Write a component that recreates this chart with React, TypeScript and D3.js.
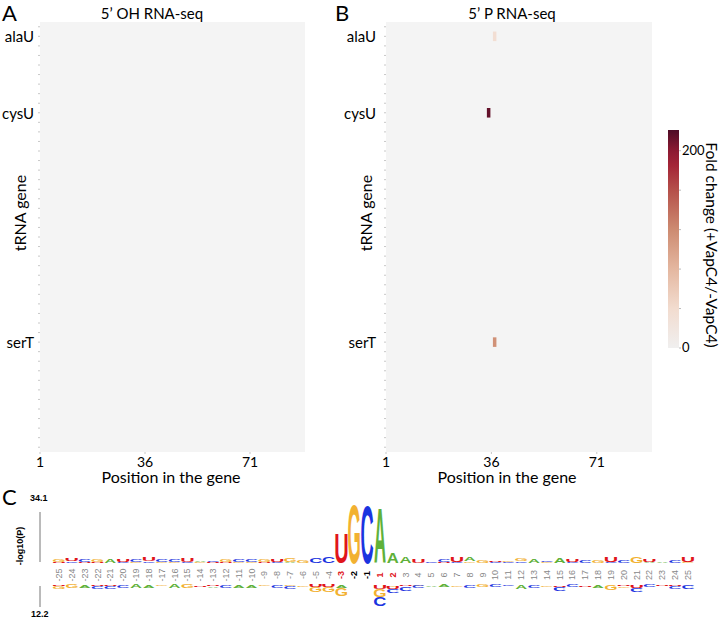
import React from "react";
import * as d3 from "d3";

const W = 720;
const H = 619;

// ---------- heatmap data ----------
const nRows = 45;
const nPositions = 89.33;
const xTickValues = [1, 36, 71];
const labeledGenes = ["alaU", "cysU", "serT"];
const labeledRows = [1, 9, 33];
const cellGenes = ["alaU", "cysU", "serT"];
const cellPositions = [37, 35, 37];
const cellValues = [35, 214, 115];
const colorbarMax = 221;
const colorbarTicks = [0, 200];
const colorbarMinorTicks = [40, 80, 120, 160];
const colorStops = [0, 40, 80, 120, 160, 185, 200, 221];
const colorStopColors = ["#f0efef", "#f2dccf", "#e4b7a0", "#cd8b71", "#b5504a", "#a42537", "#8c1a32", "#4e0c26"];

// ---------- logo data ----------
const logoPositions = [-25, -24, -23, -22, -21, -20, -19, -18, -17, -16, -15, -14, -13, -12, -11, -10, -9, -8, -7, -6, -5, -4, -3, -2, -1,
  1, 2, 3, 4, 5, 6, 7, 8, 9, 10, 11, 12, 13, 14, 15, 16, 17, 18, 19, 20, 21, 22, 23, 24, 25];
type L = [string, number];
const logoTop: L[][] = [
  [["U", 0.5], ["G", 1.6]], [["C", 0.9], ["U", 1.1]], [["U", 0.6], ["C", 1.4]], [["U", 0.5], ["G", 1.7]], [["A", 1.9]],
  [["C", 0.8], ["U", 1.2]], [["G", 0.8], ["C", 1.5]], [["C", 1.0], ["U", 2.3]], [["G", 0.5], ["C", 1.5]], [["G", 0.6], ["C", 1.4]],
  [["C", 0.8], ["U", 2.4]], [["G", 0.4], ["A", 1.0]], [["U", 0.5], ["C", 0.9]], [["U", 0.6], ["G", 1.1]], [["G", 0.6], ["C", 1.6]],
  [["G", 0.7], ["C", 1.6]], [["U", 0.6], ["G", 1.4]], [["C", 0.5], ["U", 1.6]], [["A", 0.6], ["G", 2.0]], [["G", 1.2]],
  [["C", 3.0]], [["C", 3.4]], [["U", 17]], [["G", 34.1]], [["C", 33.5]],
  [["A", 32]], [["A", 5.7]], [["A", 3.8]], [["U", 1.8]], [["C", 1.0]],
  [["U", 0.6], ["C", 1.2]], [["C", 0.8], ["U", 3.0]], [["G", 1.0], ["A", 1.8]], [["G", 1.3]], [["C", 0.7], ["U", 1.0]],
  [["C", 0.6], ["G", 1.0]], [["C", 0.9], ["G", 1.6]], [["A", 2.3]], [["G", 0.6], ["C", 1.0]], [["A", 2.6]],
  [["C", 0.7], ["U", 1.1]], [["C", 1.2]], [["G", 1.5]], [["C", 0.6], ["U", 2.8]], [["C", 1.4]],
  [["G", 3.4]], [["A", 0.6], ["U", 1.2]], [["A", 1.0]], [["C", 1.3]], [["G", 0.8], ["U", 2.6]],
];
const logoBottom: L[][] = [
  [["U", 0.7], ["G", 1.5]], [["G", 1.8]], [["A", 1.6]], [["U", 0.8], ["C", 1.4]], [["U", 0.8], ["C", 1.4]],
  [["C", 1.5]], [["A", 1.8]], [["A", 1.7]], [["G", 0.8]], [["A", 1.8]],
  [["G", 1.9]], [["U", 1.0]], [["U", 0.8], ["A", 1.0]], [["C", 1.5]], [["A", 1.5]],
  [["A", 1.5]], [["G", 0.8]], [["C", 1.5]], [["G", 0.8], ["C", 1.5]], [["G", 1.0]],
  [["U", 1.2], ["G", 2.8]], [["U", 1.2], ["G", 3.0]], [["A", 1.5], ["G", 4.5]], [], [],
  [["U", 2.5], ["G", 4.5], ["C", 5.0]], [["G", 1.0], ["U", 1.5], ["C", 2.0]], [["U", 0.8], ["C", 2.5]], [["G", 0.6], ["C", 1.2]], [["A", 1.0]],
  [["A", 1.2]], [["G", 0.9]], [["C", 1.6]], [["G", 1.3]], [["C", 1.3]],
  [["C", 0.7]], [["A", 2.0]], [["C", 1.5]], [["G", 1.0]], [["U", 1.0], ["C", 2.2]],
  [["C", 1.2]], [["U", 1.0]], [["A", 1.5]], [["G", 2.6]], [["U", 0.7], ["G", 1.0]],
  [["U", 1.5], ["C", 2.4]], [["C", 1.3]], [["U", 0.8]], [["U", 0.7], ["C", 1.4]], [["C", 2.2]],
];
const logoTopMax = 34.1;
const logoBottomMax = 12.2;
const redLabels = [-3, 1, 2];
const blackLabels = [-2, -1];

const letterColors: Record<string, string> = { A: "#5fb13a", C: "#1b34e0", G: "#f2b131", U: "#e0151b" };
const inkWidth: Record<string, number> = { A: 0.72, C: 0.66, G: 0.7, U: 0.6 };
const CAP = 0.716;

const uiFont = "Lato, 'Open Sans', sans-serif";
const logoFont = "'Liberation Sans', Arial, sans-serif";

function Letter({ ch, cx, yBottom, w, h }: { ch: string; cx: number; yBottom: number; w: number; h: number }) {
  const fs = 100;
  const sx = w / (inkWidth[ch] * fs);
  const sy = h / (CAP * fs);
  return (
    <text
      transform={`translate(${cx},${yBottom}) scale(${sx},${sy})`}
      textAnchor="middle"
      fontFamily={logoFont}
      fontWeight="bold"
      fontSize={fs}
      fill={letterColors[ch]}
    >
      {ch}
    </text>
  );
}

function Heatmap({ x0, x1, title, titleX, panel, panelX, labelX, yTitleX, xTitleX, withCells }: any) {
  const y0 = 22, y1 = 452;
  const x = d3.scaleLinear().domain([1, nPositions]).range([x0, x1]);
  const y = d3.scaleBand<number>().domain(d3.range(nRows)).range([y0, y1]);
  const color = d3.scaleLinear<string>().domain(colorStops).range(colorStopColors).interpolate(d3.interpolateRgb);
  const step = x(2) - x(1);
  return (
    <g>
      <text x={panelX} y={21} fontFamily={uiFont} fontSize={22}>{panel}</text>
      <text x={titleX} y={19} textAnchor="middle" fontFamily={uiFont} fontSize={15}>{title}</text>
      <rect x={x0} y={y0} width={x1 - x0} height={y1 - y0} fill="#f4f4f4" />
      {d3.range(nRows).map((r) => (
        <line key={r} x1={x0 - 2} x2={x0} y1={y(r)! + y.bandwidth() / 2} y2={y(r)! + y.bandwidth() / 2} stroke="#c8c8c8" strokeWidth={1} />
      ))}
      {labeledGenes.map((g, i) => (
        <text key={g} x={labelX} y={y(labeledRows[i])! + y.bandwidth() / 2} textAnchor="end" dominantBaseline="central" fontFamily={uiFont} fontSize={15}>{g}</text>
      ))}
      {withCells && cellGenes.map((g, i) => {
        const r = labeledRows[labeledGenes.indexOf(g)];
        return (
          <rect key={g} x={x(cellPositions[i]) - step / 2} y={y(r)!} width={step + 0.5} height={y.bandwidth()} fill={color(cellValues[i])} />
        );
      })}
      {xTickValues.map((t) => (
        <g key={t}>
          <line x1={x(t)} x2={x(t)} y1={y1} y2={y1 + 2} stroke="#c8c8c8" />
          <text x={x(t)} y={467} textAnchor="middle" fontFamily={uiFont} fontSize={14}>{t}</text>
        </g>
      ))}
      <text x={xTitleX} y={483} textAnchor="middle" fontFamily={uiFont} fontSize={16}>Position in the gene</text>
      <text transform={`translate(${yTitleX},213) rotate(-90)`} textAnchor="middle" dominantBaseline="central" fontFamily={uiFont} fontSize={16}>tRNA gene</text>
    </g>
  );
}

function Colorbar() {
  const bx = 668, bw = 11;
  const y = d3.scaleLinear().domain([0, colorbarMax]).range([348, 130]);
  const stops = colorStops.map((v, i) => ({ off: v / colorbarMax, c: colorStopColors[i] }));
  return (
    <g>
      <defs>
        <linearGradient id="cbgrad" x1="0" y1="1" x2="0" y2="0">
          {stops.map((s, i) => (
            <stop key={i} offset={s.off} stopColor={s.c} />
          ))}
        </linearGradient>
      </defs>
      <rect x={bx} y={y(colorbarMax)} width={bw} height={y(0) - y(colorbarMax)} fill="url(#cbgrad)" />
      {colorbarMinorTicks.concat(colorbarTicks).map((t) => (
        <line key={t} x1={bx + bw} x2={bx + bw + 2} y1={y(t)} y2={y(t)} stroke="#bbb" />
      ))}
      {colorbarTicks.map((t) => (
        <text key={t} x={bx + bw + 3} y={y(t) - 1} dominantBaseline="central" fontFamily={uiFont} fontSize={13}>{t}</text>
      ))}
      <text transform="translate(712,245) rotate(90)" textAnchor="middle" dominantBaseline="central" fontFamily={uiFont} fontSize={15.5}>Fold change (+VapC4/-VapC4)</text>
    </g>
  );
}

function Logo() {
  const x = d3.scaleLinear().domain([0, logoPositions.length - 1]).range([59, 688]);
  const yTop = d3.scaleLinear().domain([0, logoTopMax]).range([563, 503]);
  const yBot = d3.scaleLinear().domain([0, logoBottomMax]).range([585, 606.5]);
  const lw = 12;
  return (
    <g>
      <text x={2} y={505} fontFamily={uiFont} fontSize={22}>C</text>
      <text x={30} y={501} fontFamily={logoFont} fontWeight="bold" fontSize={9}>34.1</text>
      <text x={31} y={617} fontFamily={logoFont} fontWeight="bold" fontSize={9}>12.2</text>
      <line x1={40} x2={40} y1={512} y2={562} stroke="#777" />
      <line x1={40} x2={40} y1={586} y2={607} stroke="#777" />
      <text transform="translate(20,546) rotate(-90)" textAnchor="middle" dominantBaseline="central" fontFamily={logoFont} fontWeight="bold" fontSize={9}>-log10(P)</text>
      {logoPositions.map((p, i) => {
        const cx = x(i);
        let acc = 0;
        const tops = logoTop[i].map(([ch, v], j) => {
          const yb = yTop(acc);
          acc += v;
          const h = yb - yTop(acc);
          return <Letter key={"t" + j} ch={ch} cx={cx} yBottom={yb} w={lw} h={h} />;
        });
        let accB = 0;
        const bots = logoBottom[i].map(([ch, v], j) => {
          const yt = yBot(accB);
          accB += v;
          const yb = yBot(accB);
          return <Letter key={"b" + j} ch={ch} cx={cx} yBottom={yb} w={lw} h={yb - yt} />;
        });
        const fill = redLabels.includes(p) ? "#e0151b" : blackLabels.includes(p) ? "#000" : "#888";
        return (
          <g key={p}>
            {tops}
            {bots}
            <text transform={`translate(${cx},575) rotate(-90)`} textAnchor="middle" dominantBaseline="central" fontFamily={logoFont} fontSize={9} fontWeight={fill === "#888" ? "normal" : "bold"} fill={fill}>{p}</text>
          </g>
        );
      })}
    </g>
  );
}

export default function App() {
  return (
    <svg width={W} height={H} style={{ position: "absolute", left: 0, top: 0, background: "#fff" }}>
      <Heatmap x0={40} x1={305} title="5’ OH RNA-seq" titleX={152} panel="A" panelX={2} labelX={34} yTitleX={19} xTitleX={171} withCells={false} />
      <Heatmap x0={386} x1={652} title="5’ P RNA-seq" titleX={512} panel="B" panelX={335} labelX={376} yTitleX={365} xTitleX={507} withCells={true} />
      <Colorbar />
      <Logo />
    </svg>
  );
}
